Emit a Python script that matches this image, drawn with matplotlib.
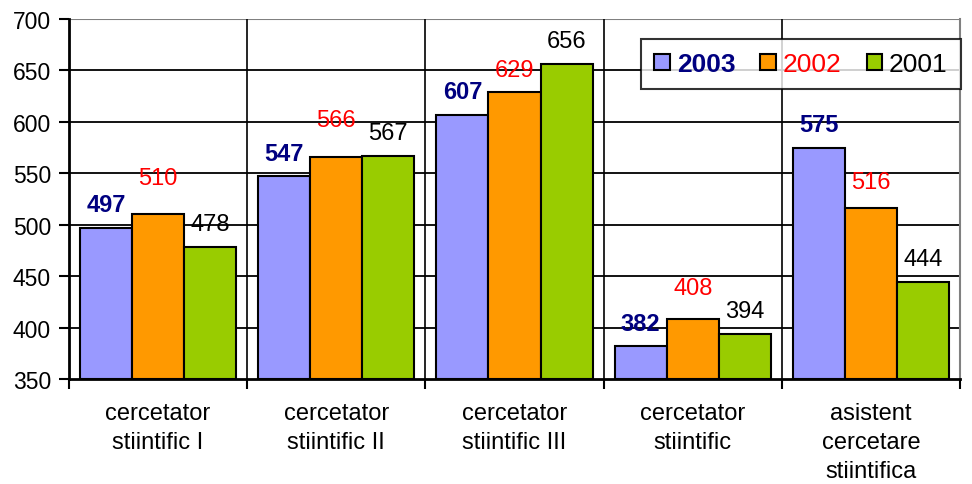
import numpy as np
import matplotlib.pyplot as plt

plt.rcParams['font.family'] = ['Liberation Sans', 'DejaVu Sans']

# date
categorii = ['cercetator\nstiintific I', 'cercetator\nstiintific II',
             'cercetator\nstiintific III', 'cercetator\nstiintific',
             'asistent\ncercetare\nstiintifica']
ani = ['2003', '2002', '2001']
v2003 = [497, 547, 607, 382, 575]
v2002 = [510, 566, 629, 408, 516]
v2001 = [478, 567, 656, 394, 444]

culori = ['#9999FF', '#FF9900', '#99CC00']
culori_text = ['#000080', '#FF0000', '#000000']
greutati = ['bold', 'normal', 'normal']
# decalaj eticheta (pixeli deasupra barei)
decalaje = [[23] * 5, [36, 37, 22, 31, 26], [23] * 5]

fig = plt.figure(figsize=(9.72, 4.85), dpi=100)
ax = fig.add_axes([69 / 972, 1 - 380 / 485, (960 - 69) / 972, 360 / 485])

x = np.arange(len(categorii))
w = 0.292
serii = [v2003, v2002, v2001]
for i, vals in enumerate(serii):
    pos = x + (i - 1) * w
    ax.bar(pos, np.array(vals) - 350, w, bottom=350, color=culori[i],
           edgecolor='black', linewidth=1.5, label=ani[i], zorder=3)
    for j, v in enumerate(vals):
        ax.annotate(str(v), (pos[j], v), xytext=(0, decalaje[i][j] * 0.72),
                    textcoords='offset points', ha='center', va='center',
                    fontsize=17, color=culori_text[i], fontweight=greutati[i],
                    zorder=5)

ax.set_ylim(350, 700)
ax.set_xlim(-0.5, len(categorii) - 0.5)
ax.set_yticks(range(350, 701, 50))
ax.tick_params(axis='y', labelsize=16.5, length=7, width=1.5, direction='out',
               pad=6)

# grila
for yv in range(400, 700, 50):
    ax.axhline(yv, color='black', linewidth=1.3, zorder=1)
ax.axhline(700, color='#808080', linewidth=1.5, zorder=1)
for b in np.arange(0.5, len(categorii) - 1, 1):
    ax.axvline(b, color='black', linewidth=1.2, zorder=1)

ax.set_xticks(np.arange(-0.5, len(categorii), 1))
ax.set_xticklabels([])
ax.tick_params(axis='x', length=7, width=1.5, direction='out')
for xi, c in zip(x, categorii):
    ax.text(xi, -0.065, c, transform=ax.get_xaxis_transform(), ha='center',
            va='top', fontsize=17, linespacing=1.4)

ax.spines['left'].set_linewidth(2)
ax.spines['bottom'].set_linewidth(2)
ax.spines['top'].set_visible(False)
ax.spines['right'].set_color('#808080')
ax.spines['right'].set_linewidth(1.5)

leg = ax.legend(loc='upper left', bbox_to_anchor=(641 / 972, 1 - 40 / 485),
                bbox_transform=fig.transFigure, ncol=3, fontsize=19,
                frameon=True, fancybox=False, edgecolor='black',
                handlelength=0.6, handleheight=0.6, handletextpad=0.25,
                columnspacing=0.95, borderpad=0.5, borderaxespad=0)
leg.get_frame().set_linewidth(1.5)
for t, c, fw in zip(leg.get_texts(), culori_text, greutati):
    t.set_color(c)
    t.set_fontweight(fw)

plt.savefig('out.png', dpi=100)
